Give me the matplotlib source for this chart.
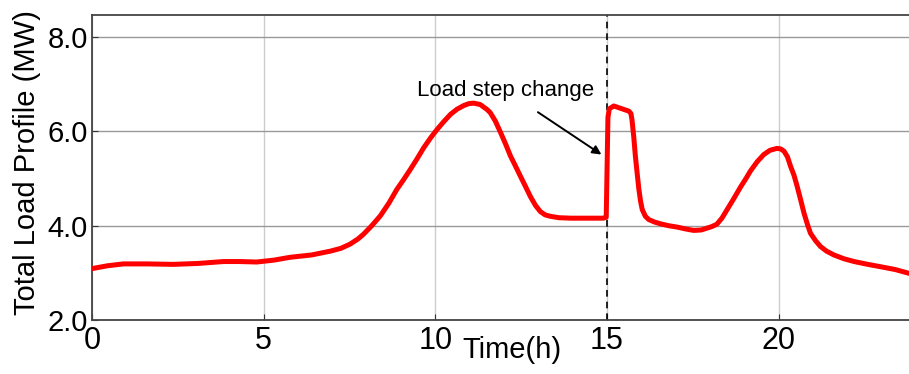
import matplotlib
matplotlib.use('Agg')
import matplotlib.pyplot as plt
import numpy as np

plt.rcParams['font.family'] = ['Liberation Sans', 'DejaVu Sans']

# load profile (hours, MW)
hours = [0.0, 0.45, 0.91, 1.6, 2.37, 3.1, 3.83, 4.3, 4.8, 5.3, 5.77, 6.4, 6.94,
         7.25, 7.52, 7.75, 7.91, 8.15, 8.4, 8.65, 8.88, 9.08, 9.27, 9.47, 9.66,
         9.86, 10.05, 10.25, 10.44, 10.63, 10.83, 10.98, 11.12, 11.31, 11.5,
         11.6, 11.75, 11.9, 12.05, 12.19, 12.34, 12.48, 12.63, 12.77, 12.92,
         13.06, 13.2, 13.35, 13.6, 13.94, 14.4, 14.9, 14.98,
         15.03, 15.07, 15.2, 15.44, 15.64, 15.7, 15.73, 15.78, 15.83, 15.88,
         15.93, 15.98, 16.03, 16.12, 16.22, 16.38, 16.56, 16.8, 17.05, 17.3,
         17.53, 17.75, 17.92, 18.05, 18.2, 18.35, 18.5, 18.7, 18.9, 19.05,
         19.18, 19.38, 19.57, 19.75, 19.95, 20.06, 20.16, 20.26, 20.35, 20.45,
         20.54, 20.64, 20.74, 20.84, 20.93, 21.08, 21.22, 21.4, 21.61, 21.9,
         22.2, 22.6, 22.97, 23.4, 23.8]
load = [3.09, 3.15, 3.19, 3.19, 3.18, 3.2, 3.24, 3.24, 3.23, 3.27, 3.33, 3.38,
        3.46, 3.52, 3.61, 3.72, 3.82, 4.0, 4.21, 4.48, 4.77, 4.98, 5.19, 5.42,
        5.65, 5.86, 6.04, 6.21, 6.36, 6.47, 6.55, 6.59, 6.6, 6.57, 6.47,
        6.4, 6.22, 5.98, 5.73, 5.48, 5.26, 5.05, 4.83, 4.62, 4.43,
        4.3, 4.23, 4.2, 4.17, 4.16, 4.16, 4.16, 4.18,
        6.3, 6.48, 6.54, 6.48, 6.43, 6.38, 6.25, 5.9, 5.47, 5.12,
        4.78, 4.52, 4.34, 4.2, 4.13, 4.08, 4.04, 4.0, 3.97, 3.93,
        3.9, 3.91, 3.95, 3.98, 4.03, 4.16, 4.34, 4.58, 4.83, 5.0,
        5.16, 5.36, 5.51, 5.6, 5.64, 5.63, 5.58, 5.46, 5.26, 5.07,
        4.84, 4.56, 4.27, 4.03, 3.84, 3.68, 3.56, 3.46, 3.38, 3.3,
        3.24, 3.18, 3.13, 3.07, 2.99]

x_ticks = [0, 5, 10, 15, 20]
y_ticks = [2.0, 4.0, 6.0, 8.0]
step_time = 15.0

fig = plt.figure(figsize=(9.09, 3.74), dpi=100)
ax = fig.add_axes([0.1012, 0.1444, 0.8988, 0.8155])

ax.plot(hours, load, color='#ff0000', lw=3.6, solid_joinstyle='round',
        solid_capstyle='round', zorder=3)
ax.axvline(step_time, color='black', ls=(0, (4, 3)), lw=1.2, zorder=2)

ax.set_xlim(0, 23.8)
ax.set_ylim(2.0, 8.47)
ax.set_xticks(x_ticks)
ax.set_yticks(y_ticks)
ax.set_yticklabels(['%.1f' % v for v in y_ticks])
ax.tick_params(direction='in', length=4, color='#333333')
ax.tick_params(axis='x', labelsize=22, pad=4)
ax.tick_params(axis='y', labelsize=21, pad=3)

ax.grid(axis='x', color='#cccccc', lw=1)
ax.grid(axis='y', color='#999999', lw=1)
ax.set_axisbelow(True)
for side in ['top', 'left', 'bottom']:
    ax.spines[side].set_color('#444444')
    ax.spines[side].set_linewidth(1.3)
ax.spines['right'].set_visible(False)

ax.annotate('Load step change', xy=(14.84, 5.51), xytext=(12.04, 6.87),
            ha='center', va='center', fontsize=16,
            arrowprops=dict(arrowstyle='-|>', color='black', lw=1.4,
                            mutation_scale=13, shrinkA=11, shrinkB=0))

fig.text(512 / 909, 1 - 350 / 374, 'Time(h)', ha='center', va='center', fontsize=21)
fig.text(27 / 909, 1 - 163 / 374, 'Total Load Profile (MW)', ha='center',
         va='center', rotation=90, fontsize=21)

fig.savefig('out.png', dpi=100)
